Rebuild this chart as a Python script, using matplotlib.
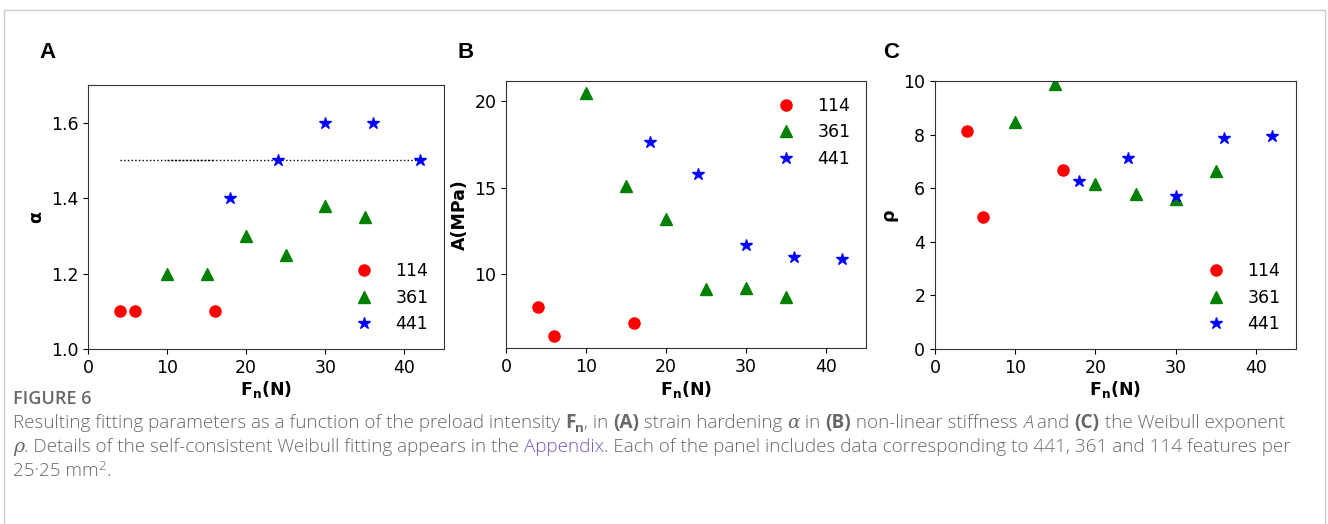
import matplotlib.pyplot as plt
from matplotlib.patches import Rectangle
from matplotlib.transforms import IdentityTransform

# preload force (N) for each feature density
fn_114 = [4, 6, 16]
fn_361 = [10, 15, 20, 25, 30, 35]
fn_441 = [18, 24, 30, 36, 42]

# (A) strain hardening alpha
alpha_114 = [1.1, 1.1, 1.1]
alpha_361 = [1.2, 1.2, 1.3, 1.25, 1.38, 1.35]
alpha_441 = [1.4, 1.5, 1.6, 1.6, 1.5]
alpha_ref = 1.5
ref_spans = [(4, 42), (10, 16)]

# (B) non-linear stiffness A (MPa)
stiff_114 = [8.12, 6.43, 7.16]
stiff_361 = [20.46, 15.09, 13.2, 9.15, 9.19, 8.65]
stiff_441 = [17.62, 15.8, 11.69, 10.98, 10.88]

# (C) Weibull exponent rho
rho_114 = [8.14, 4.93, 6.68]
rho_361 = [8.47, 9.87, 6.14, 5.78, 5.59, 6.66]
rho_441 = [6.26, 7.11, 5.71, 7.89, 7.94]

labels = ["114", "361", "441"]

W, H = 1328, 524
fig = plt.figure(figsize=(W / 100, H / 100), dpi=100)
FS = 12.5


def panel(rect, ys, ylabel, loc):
    ax = fig.add_axes(rect)
    ax.plot(fn_114, ys[0], "o", color="red", ms=8, label=labels[0], ls="none")
    ax.plot(fn_361, ys[1], "^", color="green", ms=8, label=labels[1], ls="none")
    ax.plot(fn_441, ys[2], "*", color="blue", ms=9, label=labels[2], ls="none")
    ax.set_xlim(0, 45)
    ax.set_xticks([0, 10, 20, 30, 40])
    ax.tick_params(labelsize=FS)
    ax.set_xlabel(r"$\mathbf{F_n(N)}$", fontsize=FS, labelpad=2)
    ax.set_ylabel(ylabel, fontsize=FS, fontweight="bold")
    for s in ax.spines.values():
        s.set_color("#333333")
    ax.legend(loc=loc, frameon=False, fontsize=FS, numpoints=1)
    return ax


def px(l, r, t, b):
    return [l / W, 1 - b / H, (r - l) / W, (b - t) / H]


axA = panel(px(88, 444, 85, 349), [alpha_114, alpha_361, alpha_441], "α", "lower right")
for x0, x1 in ref_spans:
    axA.hlines(alpha_ref, x0, x1, colors="black", linestyles=":", lw=1, zorder=1)
axA.set_ylim(1.0, 1.7)
axA.set_yticks([1.0, 1.2, 1.4, 1.6])

axB = panel(px(506, 866, 81, 348), [stiff_114, stiff_361, stiff_441], "A(MPa)", "upper right")
axB.set_yticks([10, 15, 20])

axC = panel(px(935, 1296, 81, 349), [rho_114, rho_361, rho_441], "ρ", "lower right")
axC.set_ylim(0, 10)
axC.set_yticks([0, 2, 4, 6, 8, 10])

# panel letters
for lx, letter in [(48, "A"), (466, "B"), (891, "C")]:
    fig.text(lx / W, 1 - 52 / H, letter, fontsize=16, fontweight="bold",
             family="Liberation Sans", ha="center", va="center")

# frame around the figure
fig.patches.append(Rectangle((4 / W, -0.05), (W - 7) / W, 1.05 - 10 / H,
                             transform=fig.transFigure, fill=False,
                             edgecolor="#cccccc", lw=1))

# caption
GREY = "#686868"
CFS = 13.6
renderer = fig.canvas.get_renderer()


def seg_width(txt, kw):
    a = fig.text(0, 0, "x" + txt + "x", transform=IdentityTransform(), **kw)
    b = fig.text(0, 0, "xx", transform=IdentityTransform(), **kw)
    w = a.get_window_extent(renderer).width - b.get_window_extent(renderer).width
    a.remove()
    b.remove()
    return w


def write_line(x, y, parts):
    for txt, extra in parts:
        kw = dict(fontsize=CFS, color=GREY, family="Open Sans", fontweight="light")
        dy = extra.pop("dy", 0)
        kw.update(extra)
        fig.text(x, y + dy, txt, transform=IdentityTransform(), va="baseline", **kw)
        x += seg_width(txt, kw)


bold = {"fontweight": "bold"}
ital = {"style": "italic", "family": "DejaVu Serif"}
sub = {"fontweight": "bold", "fontsize": CFS * 0.7, "dy": -4}

write_line(13, H - 404, [("FIGURE 6", {"fontweight": "semibold", "fontsize": 13})])
write_line(13, H - 428, [
    ("Resulting fitting parameters as a function of the preload intensity ", {}),
    ("F", dict(bold)), ("n", dict(sub)), (", in ", {}), ("(A)", dict(bold)),
    (" strain hardening ", {}), ("α", dict(ital)), (" in ", {}), ("(B)", dict(bold)),
    (" non-linear stiffness ", {}), ("A", {"style": "italic"}), (" and ", {}),
    ("(C)", dict(bold)), (" the Weibull exponent", {}),
])
write_line(13, H - 452, [
    ("ρ", dict(ital)), (". Details of the self-consistent Weibull fitting appears in the ", {}),
    ("Appendix", {"color": "#6a5cc4"}),
    (". Each of the panel includes data corresponding to 441, 361 and 114 features per", {}),
])
write_line(13, H - 476, [
    ("25·25 mm", {}), ("2", {"fontsize": CFS * 0.7, "dy": 6}), (".", {}),
])

fig.savefig("out.png", dpi=100)
